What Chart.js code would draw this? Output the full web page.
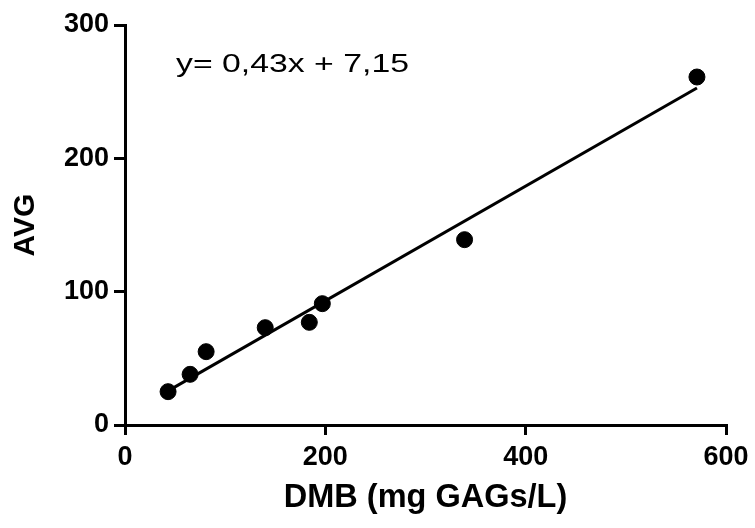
<!DOCTYPE html>
<html>
<head>
<meta charset="utf-8">
<script src="https://cdn.jsdelivr.net/npm/chart.js@4"></script>
<style>
  html, body { margin: 0; padding: 0; background: #fff; }
  #wrap { width: 755px; height: 528px; }
</style>
</head>
<body>
<div id="wrap"><canvas id="myChart" width="755" height="528"></canvas></div>
<script>
// measured points (DMB vs AVG)
let dmb = [43, 65, 81, 140, 184, 197, 339, 571];
let avg = [25, 38, 55, 73, 77, 91, 139, 261];
// regression line ends
let fitX = [43, 571];
let fitY = [25.6, 252.7];
let xTicks = [0, 200, 400, 600];
let yTicks = [0, 100, 200, 300];
let equation = "y= 0,43x + 7,15";

const FONT = "Arial, 'Liberation Sans', sans-serif";

// equation label, slightly stretched like the original
const eqText = {
  id: 'eqText',
  afterDraw(chart) {
    const ctx = chart.ctx;
    const a = chart.chartArea;
    ctx.save();
    ctx.fillStyle = '#000';
    ctx.font = "26px " + FONT;
    ctx.textBaseline = 'alphabetic';
    ctx.textAlign = 'left';
    const w = ctx.measureText(equation).width;
    ctx.translate(a.left + 51, a.top + 47);
    ctx.scale(233 / w, 1);
    ctx.fillText(equation, 0, 0);
    ctx.restore();
  }
};

const ctx = document.getElementById('myChart').getContext('2d');
const myChart = new Chart(ctx, {
  type: 'scatter',
  data: {
    datasets: [{
      label: 'AVG',
      data: dmb.map((x, i) => ({x: x, y: avg[i]})),
      backgroundColor: '#000',
      borderColor: '#000',
      pointRadius: 8,
      pointHoverRadius: 8
    }, {
      type: 'line',
      label: 'fit',
      data: fitX.map((x, i) => ({x: x, y: fitY[i]})),
      borderColor: '#000',
      borderWidth: 3,
      pointRadius: 0,
      fill: false
    }]
  },
  options: {
    responsive: false,
    animation: false,
    layout: { padding: { top: 25, right: 29, left: 0, bottom: 0 } },
    plugins: { legend: { display: false }, tooltip: { enabled: false } },
    scales: {
      x: {
        type: 'linear',
        min: 0, max: 600,
        afterFit(s) { s.height = 103; },
        afterBuildTicks(s) { s.ticks = xTicks.map(v => ({value: v})); },
        border: { color: '#000', width: 3 },
        grid: { drawOnChartArea: false, color: '#000', lineWidth: 3, tickLength: 10 },
        ticks: { color: '#000', padding: 6, font: { family: FONT, size: 27, weight: 'bold' } },
        title: {
          display: true, text: 'DMB (mg GAGs/L)', color: '#000',
          font: { family: FONT, size: 32.5, weight: 'bold' },
          padding: { top: 0, bottom: 10 }
        }
      },
      y: {
        type: 'linear',
        min: 0, max: 300,
        afterFit(s) { s.width = 125; },
        afterBuildTicks(s) { s.ticks = yTicks.map(v => ({value: v})); },
        border: { color: '#000', width: 3 },
        grid: { drawOnChartArea: false, color: '#000', lineWidth: 3, tickLength: 11 },
        ticks: { color: '#000', padding: 5, font: { family: FONT, size: 27, weight: 'bold' } },
        title: {
          display: true, text: 'AVG', color: '#000',
          font: { family: FONT, size: 30, weight: 'bold' },
          padding: { top: 8, bottom: 0 }
        }
      }
    }
  },
  plugins: [eqText]
});
</script>
</body>
</html>
